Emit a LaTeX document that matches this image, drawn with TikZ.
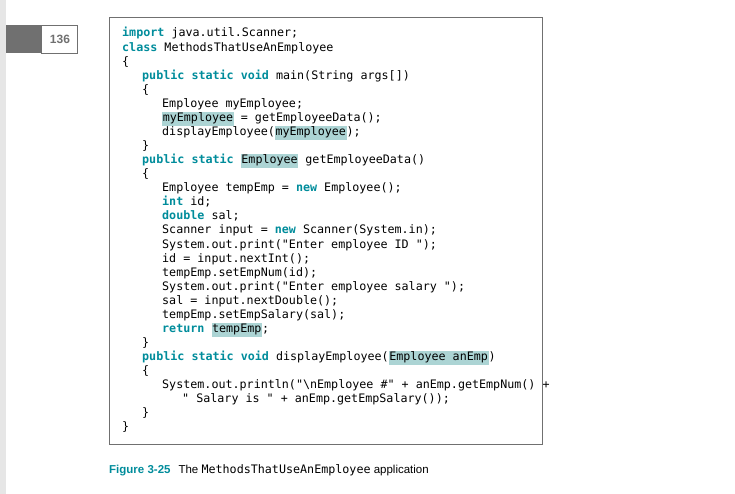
\documentclass[tikz,border=0pt]{standalone}
\usepackage{fontspec}
\setmainfont{Liberation Sans}
\setmonofont{DejaVu Sans Mono}
\usetikzlibrary{positioning}
\definecolor{kwteal}{RGB}{0,140,155}
\definecolor{hlteal}{RGB}{172,212,212}
\definecolor{pagegray}{RGB}{112,112,112}
\definecolor{stripgray}{RGB}{230,230,230}
\newcommand{\kw}[1]{{\bfseries\color{kwteal}#1}}
\newcommand{\hl}[1]{{\setlength{\fboxsep}{0.6pt}\colorbox{hlteal}{\strut#1}}}
\begin{document}
\begin{tikzpicture}[x=1pt,y=-1pt,
    code/.style={anchor=base west,inner sep=0pt,font=\ttfamily\fontsize{11.7}{13}\selectfont}]
  % frame of the page
  \useasboundingbox (0,0) rectangle (735,494);
  \fill[stripgray] (0,0) rectangle (6,494);
  \fill[pagegray] (6,25) rectangle (41,53);
  \draw[pagegray,fill=white] (41,25) rectangle (77,53);
  \node[font=\bfseries\fontsize{12}{14}\selectfont,text=pagegray] (page) at (60,39.5) {136};
  \draw[pagegray,line width=0.8pt] (109,17) rectangle (542,444);

  % -----------------------------
  % Code lines
  % -----------------------------
  \def\xa{122}\def\xb{142}\def\xc{162}\def\xd{182}
  \def\dy{14.07}
  \newcommand{\yl}[1]{37+#1*\dy}
  \node[code] (l0)  at (\xa,{\yl{0}})  {\kw{import} java.util.Scanner;};
  \node[code] (l1)  at (\xa,{\yl{1}})  {\kw{class} MethodsThatUseAnEmployee};
  \node[code] (l2)  at (\xa,{\yl{2}})  {\{};
  \node[code] (l3)  at (\xb,{\yl{3}})  {\kw{public static void} main(String args[])};
  \node[code] (l4)  at (\xb,{\yl{4}})  {\{};
  \node[code] (l5)  at (\xc,{\yl{5}})  {Employee myEmployee;};
  \node[code] (l6)  at (\xc,{\yl{6}})  {\hl{myEmployee} = getEmployeeData();};
  \node[code] (l7)  at (\xc,{\yl{7}})  {displayEmployee(\hl{myEmployee});};
  \node[code] (l8)  at (\xb,{\yl{8}})  {\}};
  \node[code] (l9)  at (\xb,{\yl{9}})  {\kw{public static} \hl{Employee} getEmployeeData()};
  \node[code] (l10) at (\xb,{\yl{10}}) {\{};
  \node[code] (l11) at (\xc,{\yl{11}}) {Employee tempEmp = \kw{new} Employee();};
  \node[code] (l12) at (\xc,{\yl{12}}) {\kw{int} id;};
  \node[code] (l13) at (\xc,{\yl{13}}) {\kw{double} sal;};
  \node[code] (l14) at (\xc,{\yl{14}}) {Scanner input = \kw{new} Scanner(System.in);};
  \node[code] (l15) at (\xc,{\yl{15}}) {System.out.print("Enter employee ID ");};
  \node[code] (l16) at (\xc,{\yl{16}}) {id = input.nextInt();};
  \node[code] (l17) at (\xc,{\yl{17}}) {tempEmp.setEmpNum(id);};
  \node[code] (l18) at (\xc,{\yl{18}}) {System.out.print("Enter employee salary ");};
  \node[code] (l19) at (\xc,{\yl{19}}) {sal = input.nextDouble();};
  \node[code] (l20) at (\xc,{\yl{20}}) {tempEmp.setEmpSalary(sal);};
  \node[code] (l21) at (\xc,{\yl{21}}) {\kw{return} \hl{tempEmp};};
  \node[code] (l22) at (\xb,{\yl{22}}) {\}};
  \node[code] (l23) at (\xb,{\yl{23}}) {\kw{public static void} displayEmployee(\hl{Employee anEmp})};
  \node[code] (l24) at (\xb,{\yl{24}}) {\{};
  \node[code] (l25) at (\xc,{\yl{25}}) {System.out.println("\textbackslash nEmployee \#" + anEmp.getEmpNum() +};
  \node[code] (l26) at (\xd,{\yl{26}}) {" Salary is " + anEmp.getEmpSalary());};
  \node[code] (l27) at (\xb,{\yl{27}}) {\}};
  \node[code] (l28) at (\xa,{\yl{28}}) {\}};

  % caption
  \node[anchor=base west,inner sep=0pt,font=\fontsize{11.5}{13}\selectfont] (cap) at (109,473)
    {{\bfseries\color{kwteal}Figure 3-25}\hspace{8pt}The {\ttfamily\fontsize{11.7}{13}\selectfont MethodsThatUseAnEmployee} application};
\end{tikzpicture}
\end{document}
